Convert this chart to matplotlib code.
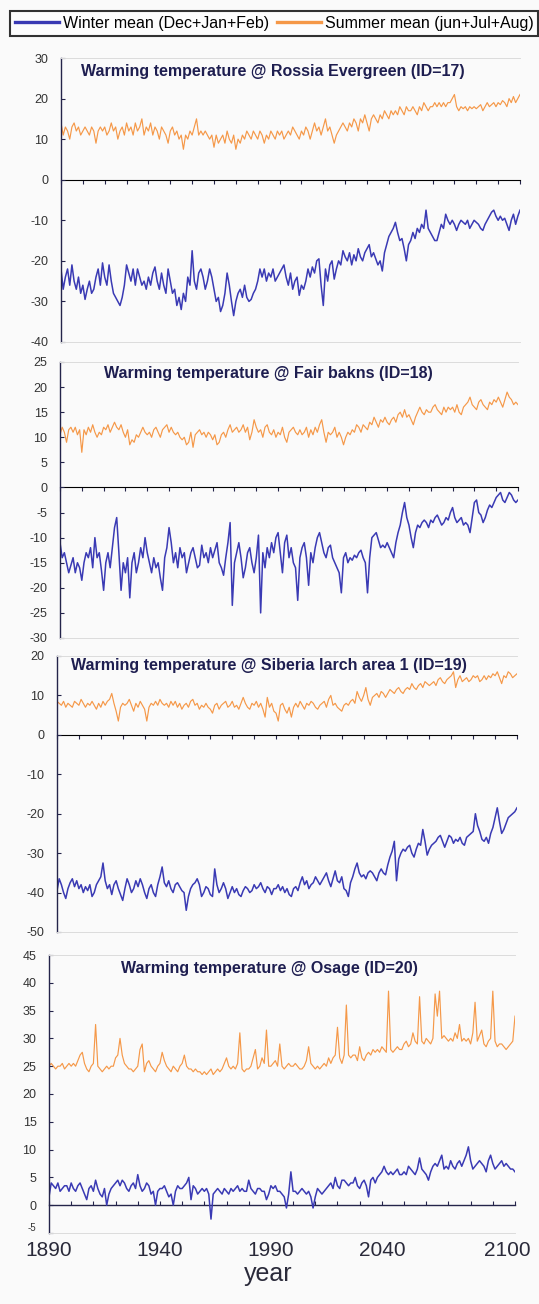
import numpy as np
import matplotlib
matplotlib.use("Agg")
import matplotlib.pyplot as plt
import matplotlib.transforms as mtrans
from matplotlib.lines import Line2D

plt.rcParams['font.family'] = ['Liberation Sans', 'DejaVu Sans']
plt.rcParams['axes.unicode_minus'] = False

# years on the x axis, one value per year
years = np.arange(1890, 2101)

# ---- ID=17 Rossia Evergreen ----
rossia_winter = [
    -22, -27, -24, -22, -26, -21, -25, -27, -24, -28,
    -26, -29.5, -27, -25, -28, -27, -24, -22, -26, -20.5,
    -24, -26, -21, -25, -28, -29, -30, -31, -29, -26,
    -21, -23, -25, -22, -26, -22, -24, -26, -25, -27,
    -24, -26, -23, -21.5, -25, -27, -23, -26, -28, -22,
    -25, -28, -27, -31, -29, -32, -28, -30, -24, -26,
    -17.5, -25, -27, -23, -22, -24, -27, -25, -22, -24,
    -27, -30, -29, -32.5, -31, -28, -23, -26, -30, -33.5,
    -30, -28, -27, -29, -26, -29, -30, -29.5, -28, -27,
    -25, -22, -24, -22, -25, -23, -24, -22, -25, -24,
    -23, -22, -21, -24, -26, -23, -27, -25, -24, -28.5,
    -26, -27, -25, -22, -24, -21.5, -23, -20, -19.5, -26,
    -31, -22, -25, -21, -20, -24.5, -22, -20, -21, -17.5,
    -19, -20, -18, -21, -18.5, -20, -17, -19, -20, -18,
    -17, -16, -19, -18, -19.5, -21, -20, -22.5, -18, -16,
    -14, -13, -12, -10.5, -13, -15, -14.5, -17, -20, -16,
    -15, -13, -14.5, -12, -13, -11, -12, -7.5, -12, -13,
    -14, -15, -15, -13, -11, -12, -8.5, -10, -11, -10,
    -11, -12.5, -11, -10, -10.5, -11, -10, -12, -11, -10,
    -10.5, -11, -12, -12.5, -11, -10, -9, -8, -7.5, -9,
    -10, -9, -10, -9.5, -11, -12.5, -10, -8.5, -11, -9,
    -7.5,
]
rossia_summer = [
    14, 11, 13, 12, 10, 13, 14, 12, 13, 11,
    12, 13, 12, 11, 13, 12, 9, 12, 13, 12,
    13, 11, 12, 14, 12, 13, 10, 12, 13, 11,
    14, 12, 13, 11, 14, 12, 13, 15, 11, 13,
    12, 14, 11, 13, 12, 10, 13, 12, 11, 9,
    12, 13, 11, 12, 10, 11, 7.5, 11, 10, 12,
    11, 13, 15, 11, 12, 11, 12, 11, 10, 11,
    8, 11, 9, 10, 11, 9, 12, 10, 9, 11,
    7.5, 10, 9, 11, 10, 12, 11, 10, 12, 11,
    10, 12, 11, 9, 11, 10, 12, 11, 10, 12,
    11, 12, 10, 11, 12, 11, 13, 12, 11, 10,
    12, 11, 13, 12, 10, 12, 14, 12, 13, 11,
    13, 15, 12, 13, 11, 9, 11, 12, 13, 14,
    13, 12, 14, 13, 15, 14, 12, 15, 14, 16,
    14, 12, 15, 16, 15, 14, 16, 15, 17, 16,
    15, 17, 16, 17, 16, 18, 17, 16, 18, 17,
    17, 18, 17, 16, 18, 17, 19, 18, 17, 18,
    18, 19, 18, 19, 18, 19, 18, 19, 19, 20,
    21, 18, 17, 18, 17.5, 18, 17, 18, 17.5, 18,
    17.5, 18, 18.5, 17, 18, 19, 18, 18.5, 19, 18,
    19, 18.5, 19.5, 19, 18, 20, 19, 20.5, 19, 20,
    21,
]

# ---- ID=18 Fair bakns ----
fair_winter = [
    -11, -14, -13, -15, -17, -15.5, -14, -17, -15, -16,
    -18.5, -15, -13, -14, -12, -16, -10, -14, -13, -16.5,
    -20.5, -15, -13, -16, -12, -8, -6, -13, -20.5, -15,
    -17, -14, -22, -15, -13, -17, -15, -12, -14, -10,
    -13, -15, -17, -14, -16, -15, -18, -20.5, -14, -12,
    -8, -11, -15, -13, -16, -12, -14, -13, -17, -15,
    -13, -12, -14, -16, -15.5, -11.5, -14, -13, -15, -12,
    -14, -12.5, -11, -15, -16, -17.5, -14, -11, -7, -23.5,
    -15, -13, -11, -14, -18, -16, -13, -12, -15, -17,
    -14, -9.5, -25, -13, -16, -12, -14, -11, -13, -10,
    -9, -13, -17, -11, -9.5, -14, -12, -15, -16, -22.5,
    -14, -12, -11, -14, -19.5, -13, -15, -12, -10, -9,
    -11, -13, -14, -12, -11.5, -14, -15, -16, -17, -21,
    -14, -13, -15, -14, -14.5, -13.5, -14, -13, -12.5, -14,
    -15, -21, -14, -10, -9.5, -9, -10.5, -12, -11.5, -12,
    -11, -12, -13, -14, -11, -9, -7.5, -5, -3, -6,
    -7.5, -10, -12, -9, -7.5, -8, -7, -6.5, -7, -8,
    -6.5, -7, -6, -5.5, -6.5, -7.5, -7, -6, -6.5, -5,
    -4, -6, -7, -6.5, -6, -7.5, -7, -7.5, -9, -6,
    -3, -2.5, -5, -5.5, -7, -6, -4.5, -3.5, -4, -3,
    -2, -1.5, -1, -2.5, -3, -2, -1, -1.5, -2.5, -3,
    -2.5,
]
fair_summer = [
    10.5, 12, 11, 9, 11.5, 12, 11, 12, 10.5, 11.5,
    7, 11.5, 10.5, 12, 11, 12.5, 11, 10, 11, 10.5,
    12, 11.5, 12.5, 11, 12, 13, 12, 11.5, 12.5, 11,
    10, 11.5, 8.5, 9.5, 9, 10.5, 10, 11, 12, 11,
    10.5, 11, 10, 11.5, 12, 11, 10, 11.5, 12, 12.5,
    11, 12, 11, 10.5, 11, 10, 9.5, 10, 8.5, 9,
    11, 8, 10.5, 11, 11.5, 10.5, 11, 10, 11, 10.5,
    9.5, 10.5, 8.5, 9, 10.5, 11, 10, 11.5, 12.5, 11,
    11.5, 12, 11, 11.5, 12.5, 11, 12, 9.5, 11, 13.5,
    12, 11, 11.5, 10, 12, 12.5, 11, 10.5, 11.5, 10,
    11, 10.5, 12, 10, 9, 11, 11.5, 12, 11, 10.5,
    11.5, 10.5, 11, 12, 10, 11.5, 10.5, 12, 11, 12.5,
    13.5, 11, 9, 11, 10.5, 11, 12, 10, 11, 10,
    8.5, 10, 11, 10.5, 11.5, 11, 12.5, 12, 11, 12.5,
    12, 11.5, 13, 12.5, 14, 13, 12, 13.5, 13, 14,
    13, 12.5, 13.5, 14, 13, 14.5, 15, 14, 15.5, 14,
    14.5, 13.5, 12.5, 14, 15, 16, 15, 14.5, 15.5, 15,
    15, 16, 16.5, 15.5, 15, 14.5, 16, 15, 16, 15.5,
    16, 15, 16.5, 15, 14.5, 16, 16.5, 17, 18, 16.5,
    16, 15.5, 17, 17.5, 16.5, 16, 15.5, 17, 16.5, 17.5,
    17, 18, 17, 16, 17.5, 19, 18, 17.5, 16.5, 17,
    16.5,
]

# ---- ID=19 Siberia larch area 1 ----
siberia_winter = [
    -39.5, -36.5, -38, -40, -41.5, -39, -37.5, -36.5, -38.5, -37,
    -39, -38, -40, -38.5, -39.5, -38, -41, -40, -38, -37,
    -36, -32.5, -37, -39, -38, -40.5, -38, -37, -39, -40.5,
    -42, -39, -36.5, -38, -40, -39, -37, -38.5, -36.5, -38,
    -40, -41.5, -39, -38, -40, -41, -38, -36, -33.5, -37.5,
    -38.5, -37, -39, -40, -38, -37.5, -38.5, -39.5, -40, -44.5,
    -41, -39, -38, -37.5, -36.5, -38, -41, -40, -38.5, -39,
    -40.5, -41, -34, -38, -40, -39, -37.5, -39, -41.5, -40,
    -38.5, -40, -39, -40.5, -41, -39.5, -38.5, -39, -40, -39.5,
    -38, -39, -38.5, -37.5, -39, -40, -38.5, -39, -40.5, -39,
    -39, -38, -39.5, -38.5, -40, -39, -40.5, -41, -39, -38.5,
    -39.5, -37.5, -36, -38, -37, -39, -38, -37.5, -36, -37,
    -38, -37, -36, -35, -37, -38.5, -36.5, -34.5, -37, -37.5,
    -36, -39, -39.5, -41, -37.5, -36, -34, -32.5, -35, -36,
    -35.5, -36.5, -35, -34.5, -35, -36, -37, -35, -34, -35,
    -35.5, -33, -31, -29.5, -27, -37, -31.5, -30, -29, -29.5,
    -28.5, -28, -30, -31, -29, -27.5, -28, -24, -27, -30.5,
    -29, -28, -27.5, -27, -26, -25.5, -27, -28.5, -27, -25.5,
    -26, -27.5, -26.5, -27, -26, -27.5, -28, -26, -25.5, -25,
    -24.5, -20, -23, -24.5, -26.5, -27, -26, -27.5, -25, -23.5,
    -21, -18.5, -22, -25, -24, -22.5, -21, -20.5, -20, -19.5,
    -18.5,
]
siberia_summer = [
    8.5, 8, 7.5, 8.5, 7, 8, 7.5, 7, 8.5, 8,
    7.5, 9, 8, 7, 8, 7.5, 8.5, 7.5, 6.5, 8,
    7, 8.5, 7.5, 8.5, 9, 10.5, 8, 6, 3.5, 7,
    8, 7.5, 8, 9, 7.5, 6, 8, 7, 8.5, 7.5,
    6.5, 3.5, 7, 8, 7.5, 8.5, 7.5, 9, 8, 7.5,
    8, 7, 8.5, 7.5, 8.5, 7, 8, 6.5, 7.5, 8,
    7, 8.5, 9, 7.5, 8, 6.5, 7.5, 7, 8, 7,
    6.5, 5.5, 7.5, 8, 6.5, 7.5, 8, 8.5, 7, 7.5,
    8.5, 7, 7.5, 6.5, 8, 9.5, 8, 7, 6.5, 8,
    7.5, 8.5, 7, 8, 6.5, 4.5, 9.5, 7, 8, 6,
    5.5, 3.5, 7.5, 8, 6.5, 5.5, 7, 4.5, 7, 8,
    7, 8.5, 7.5, 6.5, 8, 7.5, 8.5, 8, 7, 6.5,
    7.5, 8, 8.5, 7, 9, 10, 7.5, 8, 7, 6.5,
    6, 7.5, 8, 7.5, 8.5, 9, 8, 11, 9.5, 8.5,
    10, 12, 9, 7.5, 9.5, 10, 10.5, 9.5, 11, 10.5,
    9.5, 10.5, 11.5, 11, 10.5, 11.5, 12, 11, 10.5, 11.5,
    12, 11.5, 13, 12, 11.5, 12.5, 13, 12, 13.5, 13,
    12.5, 13, 13.5, 12.5, 14, 14.5, 13.5, 13, 14, 14.5,
    15, 16, 12, 14, 15, 13.5, 14, 14.5, 13.5, 14,
    15, 14.5, 15, 13.5, 14, 15, 14, 15, 14.5, 15.5,
    15, 16, 14.5, 13, 15, 14.5, 16, 15.5, 14.5, 15,
    15.5,
]

# ---- ID=20 Osage ----
osage_winter = [
    1.5, 4, 3.5, 3, 4, 2.5, 3, 3.5, 3.5, 2.5,
    4, 3, 2.5, 3.5, 4, 3, 2, 1, 3, 3.5,
    2.5, 4.5, 3, 2, 1.5, 3, 0, 2, 3, 3.5,
    4, 4.5, 3.5, 4.5, 4, 3, 2.5, 3.5, 4, 3,
    5.5, 3.5, 2.5, 3, 4, 3.5, 2, 2.5, 0, 2.5,
    3, 3, 3.5, 2.5, 1.5, 2, 0, 2.5, 3.5, 3,
    3, 3.5, 4, 5, 1, 3.5, 3, 2, 2.5, 3,
    2.5, 3, 2, -2.5, 2, 2.5, 3, 2.5, 2, 3,
    2.5, 2, 3, 2.5, 3, 3.5, 2.5, 3, 2.5, 2.5,
    4.5, 3, 2.5, 2, 3, 3, 2.5, 2.5, 1, 2,
    3.5, 3, 3.5, 2.5, 2.5, 2, 1.5, -0.5, 2, 6,
    2.5, 2.5, 2, 2.5, 3, 2.5, 2, 2.5, 1.5, -0.5,
    1.5, 3, 2.5, 2, 2.5, 3, 3.5, 4, 3, 5,
    3.5, 3, 4.5, 4.5, 4, 3.5, 4, 4, 5, 3.5,
    3, 4, 4.5, 3.5, 1.5, 4.5, 5, 4, 5, 5.5,
    6, 7, 6, 5.5, 6, 5.5, 6, 6.5, 5.5, 5.5,
    6, 5.5, 7, 6.5, 6, 5.5, 6.5, 8.5, 6.5, 6,
    5.5, 4.5, 6, 7, 7.5, 7, 8, 9, 6.5, 7,
    6.5, 8, 7, 6.5, 7.5, 8, 7, 8, 9, 10.5,
    8, 6.5, 7, 7.5, 8, 7.5, 7, 6, 8, 9,
    7.5, 6.5, 7, 7.5, 8, 7, 7.5, 7, 6.5, 6.5,
    6,
]
osage_summer = [
    25, 25.5, 25, 24.5, 25, 25, 25.5, 24.5, 25, 25.5,
    25, 25.5, 25, 26, 27, 27.5, 25.5, 24.5, 24, 25,
    25.5, 32.5, 25, 24.5, 24, 24.5, 25, 24.5, 25, 25,
    26.5, 27, 30, 27, 25.5, 25, 24.5, 24.5, 24, 24.5,
    25, 28, 29, 24, 25.5, 26, 25, 24.5, 24, 25,
    25.5, 27.5, 26, 25, 24.5, 24, 25, 24.5, 24, 25,
    25.5, 27, 25, 24.5, 24.5, 24, 24.5, 24, 24, 23.5,
    24, 23.5, 24, 24.5, 23.5, 24, 24.5, 24, 24.5, 25.5,
    26.5, 25, 24.5, 25, 24.5, 25.5, 31, 24.5, 24, 24.5,
    24.5, 25, 26.5, 28, 24.5, 25, 26.5, 25.5, 31.5, 25,
    25, 25.5, 26, 25, 29, 25, 24.5, 25, 25.5, 25,
    25, 25.5, 25, 24.5, 24.5, 25, 26, 28.5, 25.5, 25,
    24.5, 25, 24.5, 25, 25.5, 25, 26.5, 25.5, 26.5, 27,
    32, 26.5, 25.5, 27, 36, 27, 26.5, 27, 27, 26,
    28.5, 26.5, 26, 27, 27.5, 27, 28, 27.5, 28, 27.5,
    28.5, 28, 27.5, 38.5, 28, 27.5, 28, 28.5, 28, 28,
    29, 29.5, 28.5, 29, 31, 29.5, 29, 37.5, 29.5, 29,
    30, 29.5, 29, 30, 38, 34, 38.5, 30, 30.5, 30,
    29.5, 30, 29.5, 31, 30, 32.5, 29.5, 30, 29.5, 30,
    29, 31, 36.5, 29.5, 30.5, 31.5, 29, 28.5, 29.5, 30,
    38.5, 29.5, 28.5, 29, 29, 28.5, 28, 28.5, 29, 29.5,
    34,
]

titles = [
    "Warming temperature @ Rossia Evergreen (ID=17)",
    "Warming temperature @ Fair bakns (ID=18)",
    "Warming temperature @ Siberia larch area 1 (ID=19)",
    "Warming temperature @ Osage (ID=20)",
]
winters = [rossia_winter, fair_winter, siberia_winter, osage_winter]
summers = [rossia_summer, fair_summer, siberia_summer, osage_summer]
y_ranges = [(-40, 30, 10), (-30, 25, 5), (-50, 20, 10), (-5, 45, 5)]
x_labels = [1890, 1940, 1990, 2040, 2100]

# layout in pixels of the 539x1304 picture: left, right, top, bottom
W, H = 539, 1304
boxes = [(61, 520, 58, 342), (60, 518, 362, 638), (57, 517, 656, 932), (49, 515, 955, 1233)]
title_pos = [(0.462, 0.951), (0.454, 0.96), (0.461, 0.967), (0.472, 0.953)]

blue = '#3a3ab4'
orange = '#f59848'
navy = '#24244a'
faint = '#dcdcdc'
bg = '#fafafa'

fig = plt.figure(figsize=(W / 100, H / 100), dpi=100, facecolor=bg)

for i in range(4):
    l, r, t, b = boxes[i]
    ax = fig.add_axes([l / W, 1 - b / H, (r - l) / W, (b - t) / H])
    ax.set_facecolor(bg)
    ax.plot(years, summers[i], color=orange, lw=0.85)
    ax.plot(years, winters[i], color=blue, lw=1.1)
    lo, hi, step = y_ranges[i]
    ax.set_xlim(1890, 2100)
    ax.set_ylim(lo, hi)
    ax.set_yticks(np.arange(lo, hi + step, step))
    ax.tick_params(axis='y', direction='in', length=3, labelsize=9,
                   labelcolor='#333333', color=navy, pad=9)
    ax.spines['left'].set_color(navy)
    ax.spines['left'].set_linewidth(1.0)
    ax.spines['right'].set_visible(False)
    for s in ('top', 'bottom'):
        ax.spines[s].set_color(faint)
        ax.spines[s].set_linewidth(0.7)

    # zero line with decade ticks
    zero = ax.secondary_xaxis(-lo / (hi - lo))
    zero.set_xticks(np.arange(1890, 2101, 10))
    zero.xaxis.set_ticklabels([])
    zero.tick_params(direction='in', length=3, color=navy)
    zero.spines['bottom'].set_color(navy)
    zero.spines['bottom'].set_linewidth(1.0)

    if i == 3:
        ax.set_xticks(x_labels)
        ax.tick_params(axis='x', length=0, labelsize=15, labelcolor='#2a2a3a', pad=6)
        # last year label sits a little inside the right edge
        last = ax.get_xticklabels()[-1]
        last.set_transform(last.get_transform() +
                           mtrans.ScaledTranslation(-0.08, 0, fig.dpi_scale_trans))
        # the lowest y label sits small and tucked in, as in the source
        bottom_lab = ax.get_yticklabels()[0]
        bottom_lab.set_fontsize(7)
        bottom_lab.set_verticalalignment('bottom')
    else:
        ax.set_xticks([])

    ax.text(title_pos[i][0], title_pos[i][1], titles[i], transform=ax.transAxes,
            ha='center', va='center', fontsize=11.5, fontweight='bold', color='#1e1e50')

fig.text(268 / W, 1 - 1274 / H, 'year', ha='center', va='center',
         fontsize=18, color='#2a2a3a')

handles = [Line2D([], [], color=blue, lw=2.4), Line2D([], [], color=orange, lw=2.4)]
leg = fig.legend(handles, ['Winter mean (Dec+Jan+Feb)', 'Summer mean (jun+Jul+Aug)'],
                 loc='upper center', bbox_to_anchor=(274 / W, 1 - 11 / H), ncol=2,
                 frameon=True, fancybox=False, edgecolor='black', facecolor='white',
                 fontsize=11.5, handlelength=2.8, handletextpad=0.2, columnspacing=0.5,
                 borderpad=0.3, borderaxespad=0)
leg.get_frame().set_linewidth(1.5)

fig.savefig('out.png', dpi=100, facecolor=bg)
